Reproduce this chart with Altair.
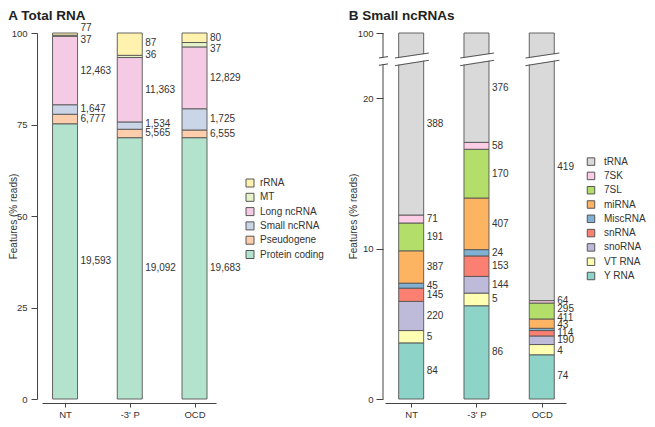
import json
import altair as alt
import pandas as pd

FONT = "Liberation Sans, Arial, Helvetica, sans-serif"
SAMPLES = ["NT", "-3' P", "OCD"]

# ---------------- Panel A : Total RNA (stack order bottom -> top)
A_TYPES = ["Protein coding", "Pseudogene", "Small ncRNA", "Long ncRNA", "MT", "rRNA"]
A_COLORS = ["#b3e2cd", "#fdcdac", "#cbd5e8", "#f4cae4", "#e6f5c9", "#fff2ae"]
A_PCT_NT = [75.2, 2.6, 2.6, 18.7, 0.3, 0.6]
A_PCT_P3 = [71.4, 2.3, 2.0, 17.6, 0.6, 6.1]
A_PCT_OCD = [71.4, 2.1, 5.8, 16.9, 1.2, 2.6]
A_CNT_NT = [19593, 6777, 1647, 12463, 37, 77]
A_CNT_P3 = [19092, 5565, 1534, 11363, 36, 87]
A_CNT_OCD = [19683, 6555, 1725, 12829, 37, 80]

# ---------------- Panel B : Small ncRNAs (stack order bottom -> top)
B_TYPES = ["Y RNA", "VT RNA", "snoRNA", "snRNA", "MiscRNA", "miRNA", "7SL", "7SK", "tRNA"]
B_COLORS = ["#8dd3c7", "#ffffb3", "#bebada", "#fb8072", "#80b1d3", "#fdb462", "#b3de69", "#fccde5", "#d9d9d9"]
B_PCT_NT = [3.73, 0.82, 1.94, 0.88, 0.33, 2.15, 1.85, 0.53, 87.77]
B_PCT_P3 = [6.20, 0.84, 1.11, 1.36, 0.42, 3.43, 3.24, 0.46, 82.94]
B_PCT_OCD = [2.94, 0.68, 0.57, 0.36, 0.15, 0.62, 1.06, 0.16, 93.46]
B_CNT_NT = [84, 5, 220, 145, 45, 387, 191, 71, 388]
B_CNT_P3 = [86, 5, 144, 153, 24, 407, 170, 58, 376]
B_CNT_OCD = [74, 4, 190, 114, 43, 411, 295, 64, 419]

# label nudges in pixels (positive = down), to avoid overlaps
A_NUDGE = {("NT", "rRNA"): -6, ("NT", "MT"): 4, ("-3' P", "rRNA"): -1.5,
           ("-3' P", "MT"): -1, ("-3' P", "Small ncRNA"): -1.5, ("OCD", "MT"): 4}
B_NUDGE = {("OCD", "7SK"): -1, ("OCD", "7SL"): -2, ("OCD", "miRNA"): -6,
           ("OCD", "MiscRNA"): -4, ("OCD", "VT RNA"): 1.5, ("OCD", "Y RNA"): -1}

# ---------------- geometry
W_A, H_A = 174, 366
XA_DOM = [-0.356, 2.332]
W_B, H_B = 181, 366
XB_DOM = [-0.401, 2.371]
BRK_VAL, BRK_PX = 23.0, 20.0   # piecewise y scale of panel B


def fwd_a(v):
    return H_A - v * H_A / 100.0


def inv_a(px):
    return (H_A - px) * 100.0 / H_A


def fwd_b(v):
    if v <= BRK_VAL:
        return H_B - v * (H_B - BRK_PX) / BRK_VAL
    return BRK_PX - (v - BRK_VAL) * BRK_PX / (100.0 - BRK_VAL)


def inv_b(px):
    if px >= BRK_PX:
        return (H_B - px) * BRK_VAL / (H_B - BRK_PX)
    return BRK_VAL + (BRK_PX - px) * (100.0 - BRK_VAL) / BRK_PX


def build(types, pcts, cnts, fwd, inv, nudges):
    rows = []
    for i, (s, p, c) in enumerate(zip(SAMPLES, pcts, cnts)):
        y0 = 0.0
        for k, (t, v, n) in enumerate(zip(types, p, c)):
            y1 = y0 + v
            mid = (fwd(y0) + fwd(y1)) / 2 + nudges.get((s, t), 0)
            rows.append(dict(sample=s, pos=i, type=t, order=k, y0=y0, y1=y1,
                             label=f"{n:,}", label_y=inv(mid)))
            y0 = y1
    return pd.DataFrame(rows)


df_a = build(A_TYPES, [A_PCT_NT, A_PCT_P3, A_PCT_OCD], [A_CNT_NT, A_CNT_P3, A_CNT_OCD],
             fwd_a, inv_a, A_NUDGE)
df_b = build(B_TYPES, [B_PCT_NT, B_PCT_P3, B_PCT_OCD], [B_CNT_NT, B_CNT_P3, B_CNT_OCD],
             fwd_b, inv_b, B_NUDGE)

label_expr = "[" + ",".join(json.dumps(s) for s in SAMPLES) + "][datum.value]"

AX = dict(domainColor="#444", tickColor="#444", labelColor="#333", labelFont=FONT,
          labelFontSize=9.5, titleFont=FONT, titleFontSize=10, titleFontWeight="normal",
          titleColor="#333", grid=False)
LEG = dict(title=None, orient="none", symbolType="square", symbolStrokeColor="#555",
           symbolStrokeWidth=1, labelFont=FONT, labelFontSize=10, labelColor="#333",
           padding=0, rowPadding=2.3)
TITLE = dict(anchor="start", font=FONT, fontSize=13.5, fontWeight="bold", color="#222")
STROKE = "#555"

# ---------------- Panel A chart
xa = alt.Scale(domain=XA_DOM, nice=False, zero=False, padding=0)
ya = alt.Scale(domain=[0, 100], nice=False, zero=False)
xa_axis = alt.Axis(values=[0, 1, 2], labelExpr=label_expr, title=None, offset=4,
                   tickSize=4, labelPadding=2.5, **AX)
ya_axis = alt.Axis(values=[0, 25, 50, 75, 100], title="Features (% reads)", offset=5,
                   tickSize=6, labelPadding=4, titleX=-23.8, titleBaseline="middle", **AX)

base_a = alt.Chart(df_a)
bars_a = base_a.mark_bar(size=25, stroke=STROKE, strokeWidth=0.9).encode(
    x=alt.X("pos:Q", scale=xa, axis=xa_axis),
    y=alt.Y("y0:Q", scale=ya, axis=ya_axis),
    y2="y1:Q",
    color=alt.Color("type:N",
                    scale=alt.Scale(domain=A_TYPES[::-1], range=A_COLORS[::-1]),
                    legend=alt.Legend(legendX=203, legendY=145, symbolSize=64,
                                      labelOffset=5, **LEG)),
)
text_a = base_a.mark_text(align="left", baseline="middle", dx=15.5, font=FONT,
                          fontSize=10, color="#333").encode(
    x=alt.X("pos:Q", scale=xa, axis=xa_axis),
    y=alt.Y("label_y:Q", scale=ya, axis=ya_axis),
    text="label:N",
)
panel_a = alt.layer(bars_a, text_a).properties(
    width=W_A, height=H_A, title=alt.TitleParams("A Total RNA", offset=1, **TITLE))

# ---------------- Panel B chart
xb = alt.Scale(domain=XB_DOM, nice=False, zero=False, padding=0)
yb = alt.Scale(domain=[0, BRK_VAL, 100], range=[H_B, BRK_PX, 0], nice=False, zero=False)
xb_axis = alt.Axis(values=[0, 1, 2], labelExpr=label_expr, title=None, offset=4,
                   tickSize=4, labelPadding=2.5, **AX)
yb_axis = alt.Axis(values=[0, 10, 20, 100], title="Features (% reads)", offset=2,
                   tickSize=7, labelPadding=3, domain=False, titleX=-29.2,
                   titleBaseline="middle", **AX)

base_b = alt.Chart(df_b)
bars_b = base_b.mark_bar(size=25, stroke=STROKE, strokeWidth=0.9).encode(
    x=alt.X("pos:Q", scale=xb, axis=xb_axis),
    y=alt.Y("y0:Q", scale=yb, axis=yb_axis),
    y2="y1:Q",
    color=alt.Color("type:N",
                    scale=alt.Scale(domain=B_TYPES[::-1], range=B_COLORS[::-1]),
                    legend=alt.Legend(legendX=201, legendY=123.6, symbolSize=56,
                                      labelOffset=8, **LEG)),
)
text_b = base_b.mark_text(align="left", baseline="middle", dx=15.5, font=FONT,
                          fontSize=10, color="#333").encode(
    x=alt.X("pos:Q", scale=xb, axis=xb_axis),
    y=alt.Y("label_y:Q", scale=yb, axis=yb_axis),
    text="label:N",
)

# break decoration across each bar (slanted white gap with two lines)
brk_rows = []
for i, s in enumerate(SAMPLES):
    brk_rows.append(dict(pos=i, xl=i - 0.25, xr=i + 0.27,
                         bl=inv_b(28.85), br=inv_b(23.65),
                         ul=inv_b(25.0), ur=inv_b(20.0),
                         ll=inv_b(32.7), lr=inv_b(27.3)))
df_brk = pd.DataFrame(brk_rows)
base_brk = alt.Chart(df_brk)
gap = base_brk.mark_rule(color="white", strokeWidth=6.5, strokeCap="butt").encode(
    x=alt.X("xl:Q", scale=xb, axis=xb_axis), x2="xr:Q",
    y=alt.Y("bl:Q", scale=yb, axis=yb_axis), y2="br:Q")
line_u = base_brk.mark_rule(color=STROKE, strokeWidth=1).encode(
    x=alt.X("xl:Q", scale=xb, axis=xb_axis), x2="xr:Q",
    y=alt.Y("ul:Q", scale=yb, axis=yb_axis), y2="ur:Q")
line_l = base_brk.mark_rule(color=STROKE, strokeWidth=1).encode(
    x=alt.X("xl:Q", scale=xb, axis=xb_axis), x2="xr:Q",
    y=alt.Y("ll:Q", scale=yb, axis=yb_axis), y2="lr:Q")

# broken y-axis line
df_axl = pd.DataFrame(dict(a=[0.0, inv_b(24.0)], b=[inv_b(31.6), 100.0]))
axis_line = alt.Chart(df_axl).mark_rule(color="#444", strokeWidth=1).encode(
    x=alt.value(-2), y=alt.Y("a:Q", scale=yb, axis=yb_axis), y2="b:Q")
df_axt = pd.DataFrame(dict(a=[inv_b(25.0), inv_b(32.3)], b=[inv_b(23.6), inv_b(30.9)]))
axis_ticks = alt.Chart(df_axt).mark_rule(color="#444", strokeWidth=1).encode(
    x=alt.value(-6), x2=alt.value(3), y=alt.Y("a:Q", scale=yb, axis=yb_axis), y2="b:Q")

panel_b = alt.layer(bars_b, gap, line_u, line_l, text_b, axis_line, axis_ticks).properties(
    width=W_B, height=H_B, title=alt.TitleParams("B Small ncRNAs", offset=6, **TITLE))

chart = alt.hconcat(panel_a, panel_b, spacing=24).resolve_scale(
    x="independent", y="independent", color="independent"
).properties(padding=0).configure_view(stroke=None)

chart.save("out.html", embed_options={"renderer": "svg", "actions": False})
